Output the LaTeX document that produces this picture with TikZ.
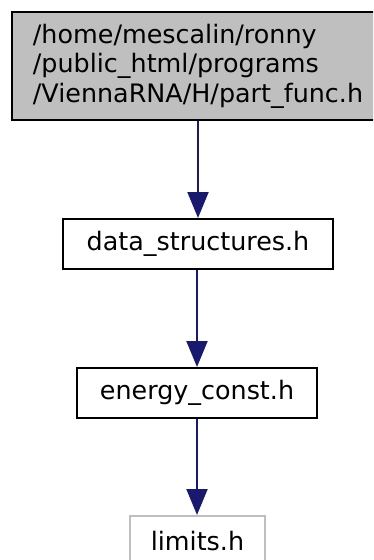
\documentclass[tikz,border=0pt]{standalone}
\usepackage{fontspec}
\setmainfont{DejaVu Sans}
\usetikzlibrary{arrows.meta}
\definecolor{edgeblue}{HTML}{191970}
\definecolor{nodegray}{HTML}{BFBFBF}
\begin{document}
\begin{tikzpicture}[x=1pt,y=-1pt,
  filebox/.style={draw=black,line width=2pt,rectangle,inner sep=0pt,
    minimum height=50pt,font=\fontsize{25.4}{29.6}\selectfont},
  dep/.style={draw=edgeblue,line width=2pt,-{Triangle[length=26pt,width=21pt]}}]
\useasboundingbox (0,0) rectangle (373,560);
\begin{scope}
\clip (0,0) rectangle (373,560);
\node[filebox,fill=nodegray,minimum width=372pt,minimum height=108pt,align=left] (top) at (198,66)
  {/home/mescalin/ronny\\/public\_html/programs\\/ViennaRNA/H/part\_func.h};
\node[filebox,fill=white,minimum width=270pt] (ds) at (198,244) {data\_structures.h};
\node[filebox,fill=white,minimum width=240pt] (ec) at (197,393) {energy\_const.h};
\node[filebox,draw=nodegray,fill=white,minimum width=135pt] (lim) at (197.5,541) {limits.h};
\draw[dep] (top.south -| ds.north) -- (ds.north);
\draw[dep] (ds.south -| ec.north) -- (ec.north);
\draw[dep] (ec.south) -- (lim.north -| ec.south);
\end{scope}
\end{tikzpicture}
\end{document}
